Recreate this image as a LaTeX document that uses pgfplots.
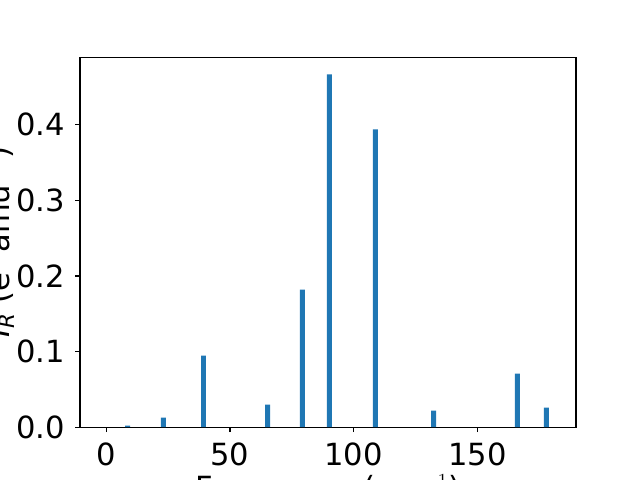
\documentclass[border=0pt]{standalone}
\usepackage{fontspec}
\setmainfont{DejaVu Sans}
\usepackage{pgfplots}
\pgfplotsset{compat=1.18}
\definecolor{tabblue}{HTML}{1F77B4}
\begin{document}
\fontsize{22}{26}\selectfont
\begin{tikzpicture}
\useasboundingbox (0,0) rectangle (460.8pt,345.6pt);
\begin{axis}[
  at={(57.6pt,38.016pt)}, anchor=south west,
  width=357.12pt, height=266.112pt, scale only axis,
  xmin=-10.63, xmax=189.9, ymin=0, ymax=0.489,
  ybar, bar width=2, bar shift=0pt,
  axis line style={line width=0.8pt},
  tick align=outside, tick pos=left,
  major tick length=3.5pt, tick style={line width=0.8pt, black},
  xtick={0,50,100,150}, ytick={0,0.1,0.2,0.3,0.4},
  scaled y ticks=false,
  /pgf/number format/assume math mode=true,
  yticklabel style={/pgf/number format/fixed, /pgf/number format/precision=1, /pgf/number format/fixed zerofill},
  tick label style={font=\fontsize{22}{26}\selectfont},
  label style={font=\fontsize{22}{26}\selectfont},
  xlabel={Frequency (cm$^{-1}$)},
  ylabel={\textit{I}\textsubscript{\textit{R}} (e$^{2}$ amu$^{-1}$)},
  xlabel style={at={(axis description cs:0.5,-0.1917)}, anchor=base},
  ylabel style={at={(axis description cs:-0.1431,0.5)}, anchor=base},
]
\addplot[fill=tabblue, draw=none] coordinates {
(8.6,0.002) (23.1,0.0126) (39.3,0.0947) (65.2,0.0298) (79.3,0.182)
(90.2,0.4669) (108.8,0.394) (132.3,0.0219) (166.2,0.0709) (177.9,0.0258)
};
\end{axis}
\end{tikzpicture}
\end{document}
